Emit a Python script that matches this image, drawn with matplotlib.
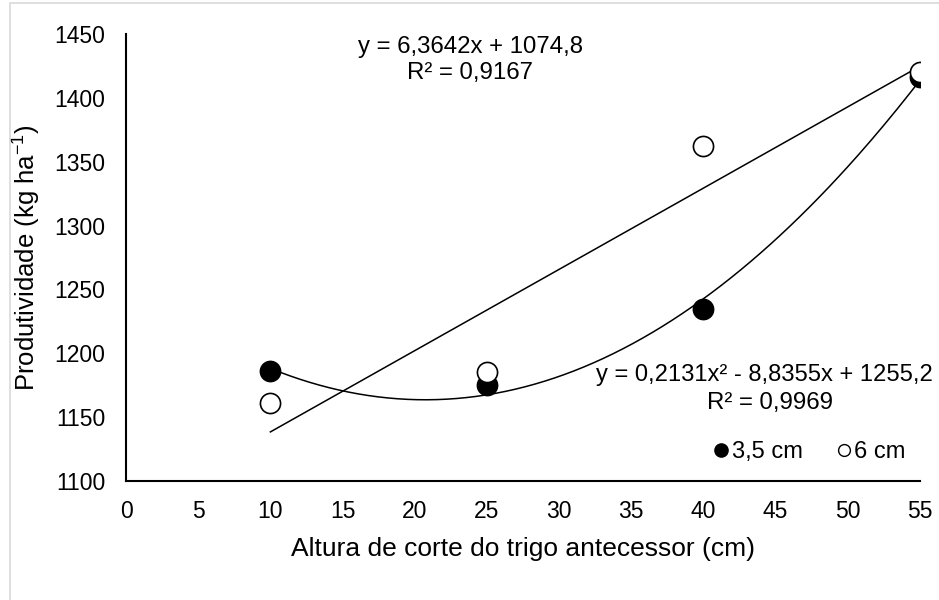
import matplotlib
matplotlib.use("Agg")
import matplotlib.pyplot as plt
import numpy as np
from matplotlib.patches import Rectangle

plt.rcParams['font.family'] = ['Liberation Sans', 'DejaVu Sans']
plt.rcParams['mathtext.fontset'] = 'custom'
plt.rcParams['mathtext.rm'] = 'Liberation Sans'
plt.rcParams['mathtext.it'] = 'Liberation Sans:italic'
plt.rcParams['mathtext.bf'] = 'Liberation Sans:bold'

x_vals = [10, 25, 40, 55]
y_35 = [1186, 1175, 1235, 1416]
y_6 = [1161, 1185, 1362, 1420]
lin_coef = [6.3642, 1074.8]          # 6 cm linear trend
quad_coef = [0.2131, -8.8355, 1255.2]  # 3,5 cm quadratic trend
xticks = list(range(0, 56, 5))
yticks = list(range(1100, 1451, 50))

fig = plt.figure(figsize=(9.39, 6.0), dpi=100)
ax = fig.add_axes([0.1342, 0.1983, 0.9798 - 0.1342, 0.9433 - 0.1983])

fig.patches.append(Rectangle((10/939, -0.1), 1.2, 1.1 - 3/600, transform=fig.transFigure,
                             fill=False, edgecolor='#d9d9d9', linewidth=1.2))

xx = np.linspace(min(x_vals), max(x_vals), 200)
ax.plot(xx, np.polyval(lin_coef, xx), color='black', lw=1.1, zorder=2)
ax.plot(xx, np.polyval(quad_coef, xx), color='black', lw=1.1, zorder=2)

ax.plot(x_vals, y_35, 'o', ms=14.5, mfc='black', mec='black', mew=1.2, ls='none', zorder=3)
ax.plot(x_vals, y_6, 'o', ms=14.5, mfc='white', mec='black', mew=1.2, ls='none', zorder=4)

h1, = ax.plot([], [], 'o', ms=9.5, mfc='black', mec='black', ls='none', label='3,5 cm')
h2, = ax.plot([], [], 'o', ms=8.5, mfc='white', mec='black', mew=1.0, ls='none', label='6 cm')
leg = ax.legend(handles=[h1, h2], loc='center', bbox_to_anchor=(808/939, 1 - 452/600),
                bbox_transform=fig.transFigure, ncol=2, frameon=False, fontsize=17,
                handletextpad=0.0, columnspacing=1.3, handlelength=0.9, borderpad=0)

ax.set_xlim(0, 55)
ax.set_ylim(1100, 1450)
ax.set_xticks(xticks)
ax.set_yticks(yticks)
ax.tick_params(axis='both', length=0, labelsize=16.5, pad=15)
ax.tick_params(axis='x', pad=14)
ax.spines['top'].set_visible(False)
ax.spines['right'].set_visible(False)
ax.spines['left'].set_linewidth(1.5)
ax.spines['bottom'].set_linewidth(1.5)

ax.set_xlabel('Altura de corte do trigo antecessor (cm)', fontsize=19, labelpad=10)
ax.set_ylabel('Produtividade (kg ha$^{\\mathregular{-1}}$)', fontsize=18.5, labelpad=8)

fig.text(470/939, 1 - 47/600, 'y = 6,3642x + 1074,8', ha='center', va='center', fontsize=17.3)
fig.text(470/939, 1 - 73/600, 'R² = 0,9167', ha='center', va='center', fontsize=17.3)
fig.text(933/939, 1 - 375/600, 'y = 0,2131x² - 8,8355x + 1255,2', ha='right', va='center', fontsize=17.1)
fig.text(770/939, 1 - 403/600, 'R² = 0,9969', ha='center', va='center', fontsize=17.3)

fig.savefig('out.png', dpi=100)
